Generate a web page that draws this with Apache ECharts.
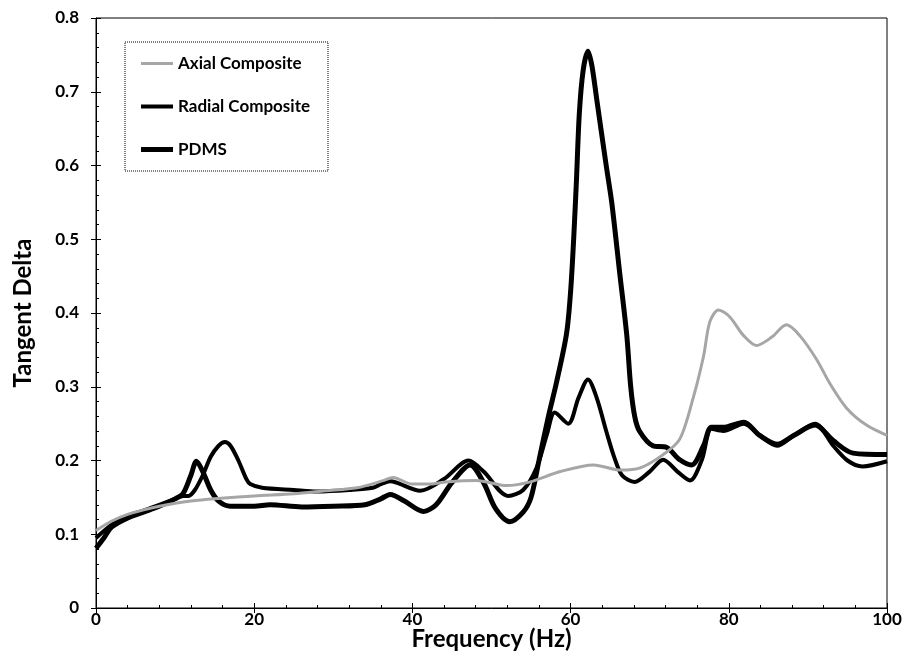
<!DOCTYPE html>
<html><head><meta charset="utf-8">
<script src="https://cdn.jsdelivr.net/npm/echarts@6/dist/echarts.min.js"></script>
<style>html,body{margin:0;padding:0;background:#fff}#c{width:908px;height:652px}</style>
</head><body><div id="c"></div>
<script>
// Axial Composite
const axialFreq = [0,2,4,6,8,10,12,15,20,25,29,33,36.4,37.5,40,42,44.3,48.1,51.9,54.9,58.7,62.9,66.3,68.8,71.7,73.8,75.5,76.8,77.6,78.7,80.1,81.9,83.5,85.4,87.3,89,91.1,92.8,94.9,97.4,100];
const axialVal  = [0.105,0.118,0.127,0.133,0.138,0.142,0.145,0.148,0.152,0.155,0.159,0.163,0.173,0.177,0.168,0.168,0.171,0.173,0.166,0.171,0.185,0.194,0.187,0.19,0.208,0.229,0.285,0.341,0.388,0.404,0.395,0.369,0.356,0.367,0.384,0.369,0.337,0.304,0.271,0.248,0.234];
// Radial Composite
const radialFreq = [0,2,4,6,8,10,11,11.7,12.5,13.5,14.5,15.5,16.3,17,18,19,19.5,21,25,28,32,35,36,37.2,38,41,44,47.1,49,52.1,54,55.7,57,58,59.7,61,62.2,63.3,64.5,65.5,66.5,68.1,70,71.7,73.5,75.1,76.6,77.8,79.3,81.9,83.9,86.1,88.2,90.9,93.2,95,96.9,100];
const radialVal  = [0.095,0.113,0.125,0.132,0.14,0.148,0.152,0.152,0.16,0.18,0.205,0.22,0.225,0.22,0.2,0.175,0.168,0.163,0.16,0.158,0.16,0.163,0.168,0.172,0.17,0.159,0.175,0.2,0.185,0.152,0.16,0.19,0.235,0.265,0.25,0.285,0.31,0.285,0.24,0.205,0.18,0.171,0.185,0.201,0.185,0.173,0.201,0.243,0.24,0.25,0.234,0.22,0.234,0.25,0.22,0.2,0.192,0.199];
// PDMS
const pdmsFreq = [0,1,2,4,6,8,10,11,12,12.7,13.5,14.5,15.5,17,20,22,26,30,34,36,37.2,39,41.4,43,45,47.3,49,50.5,52.3,54,55,56,57.2,58.2,59.5,60.1,60.7,61.1,61.6,62.2,62.7,63.3,64.5,65.2,66.2,67.1,67.6,68.1,68.7,70.4,72.1,73.8,75.3,76.8,77.8,79.3,81.9,83.9,86.1,88.2,90.9,93.2,95.7,100];
const pdmsVal  = [0.081,0.095,0.11,0.122,0.13,0.138,0.148,0.155,0.18,0.199,0.185,0.16,0.145,0.138,0.138,0.14,0.137,0.138,0.14,0.148,0.154,0.145,0.131,0.14,0.17,0.194,0.17,0.135,0.117,0.13,0.15,0.2,0.26,0.305,0.373,0.445,0.57,0.67,0.73,0.755,0.735,0.69,0.6,0.55,0.455,0.37,0.3,0.26,0.24,0.22,0.218,0.201,0.194,0.22,0.245,0.245,0.252,0.234,0.222,0.234,0.248,0.227,0.21,0.208];

const seriesNames = ['Axial Composite','Radial Composite','PDMS'];
const xTicks = [0,20,40,60,80,100];
const yTicks = [0,0.1,0.2,0.3,0.4,0.5,0.6,0.7,0.8];

const pairs = (f, v) => f.map((x, i) => [x, v[i]]);
const FONT = 'Lato';
const band = (t) => 'path://M0,0h0.01v0.01h-0.01z M0,' + (8 - t / 2) + 'h32v' + t + 'h-32z M31.99,15.99h0.01v0.01h-0.01z';

const chart = echarts.init(document.getElementById('c'), null, {renderer: 'canvas'});
const baseX = {type: 'value', min: 0, max: 100, interval: 20};
const baseY = {type: 'value', min: 0, max: 0.8, interval: 0.1};
chart.setOption({
  animation: false,
  backgroundColor: '#fff',
  grid: {left: 96, right: 21, top: 18, bottom: 44, outerBoundsMode: 'none', containLabel: false,
         show: true, borderColor: '#000', borderWidth: 1},
  legend: {
    orient: 'vertical', left: 125, top: 42,
    borderColor: '#000', borderWidth: 1, borderType: 'dotted',
    padding: [13, 18, 13, 16],
    itemWidth: 32, itemHeight: 16, itemGap: 26,
    textStyle: {fontFamily: FONT, fontWeight: 'bold', fontSize: 17, color: '#000'},
    data: [
      {name: seriesNames[0], icon: band(3)},
      {name: seriesNames[1], icon: band(4)},
      {name: seriesNames[2], icon: band(5)}
    ]
  },
  xAxis: [
    Object.assign({}, baseX, {
      name: 'Frequency (Hz)', nameLocation: 'middle', nameGap: 19, nameMoveOverlap: false,
      nameTextStyle: {fontFamily: FONT, fontWeight: 'bold', fontSize: 24, color: '#000'},
      axisLine: {lineStyle: {color: '#000', width: 1}},
      axisTick: {show: true, inside: false, length: 5, lineStyle: {color: '#000'}},
      axisLabel: {margin: 3, fontFamily: FONT, fontWeight: 'bold', fontSize: 17, color: '#000',
        formatter: v => xTicks.includes(v) ? String(v) : ''},
      splitLine: {show: false}
    }),
    Object.assign({}, baseX, {
      position: 'bottom', axisLine: {show: false},
      axisTick: {show: true, inside: true, length: 5, lineStyle: {color: '#000'}},
      minorTick: {show: true, splitNumber: 5, length: 3, lineStyle: {color: '#000'}},
      axisLabel: {show: false}, splitLine: {show: false}
    })
  ],
  yAxis: [
    Object.assign({}, baseY, {
      name: 'Tangent Delta', nameLocation: 'middle', nameGap: 61, nameMoveOverlap: false,
      nameTextStyle: {fontFamily: FONT, fontWeight: 'bold', fontSize: 24, color: '#000'},
      axisLine: {show: true, lineStyle: {color: '#000', width: 1}},
      axisTick: {show: true, inside: false, length: 5, lineStyle: {color: '#000'}},
      axisLabel: {margin: 17, fontFamily: FONT, fontWeight: 'bold', fontSize: 17, color: '#000',
        formatter: v => { const t = yTicks.find(k => Math.abs(k - v) < 1e-9); return t === undefined ? '' : (t === 0 ? '0' : t.toFixed(1)); }},
      splitLine: {show: false}
    }),
    Object.assign({}, baseY, {
      position: 'left', axisLine: {show: false},
      axisTick: {show: true, inside: true, length: 5, lineStyle: {color: '#000'}},
      minorTick: {show: true, splitNumber: 5, length: 3, lineStyle: {color: '#000'}},
      axisLabel: {show: false}, splitLine: {show: false}
    })
  ],
  series: [
    {name: seriesNames[0], type: 'line', xAxisIndex: 0, yAxisIndex: 0, data: pairs(axialFreq, axialVal),
     smooth: 0.3, symbol: 'none', lineStyle: {color: '#a6a6a6', width: 3}, itemStyle: {color: '#a6a6a6'}, z: 3},
    {name: seriesNames[1], type: 'line', xAxisIndex: 0, yAxisIndex: 0, data: pairs(radialFreq, radialVal),
     smooth: 0.3, symbol: 'none', lineStyle: {color: '#000', width: 4}, itemStyle: {color: '#000'}, z: 2},
    {name: seriesNames[2], type: 'line', xAxisIndex: 0, yAxisIndex: 0, data: pairs(pdmsFreq, pdmsVal),
     smooth: 0.3, symbol: 'none', lineStyle: {color: '#000', width: 5}, itemStyle: {color: '#000'}, z: 2}
  ]
});
</script></body></html>
